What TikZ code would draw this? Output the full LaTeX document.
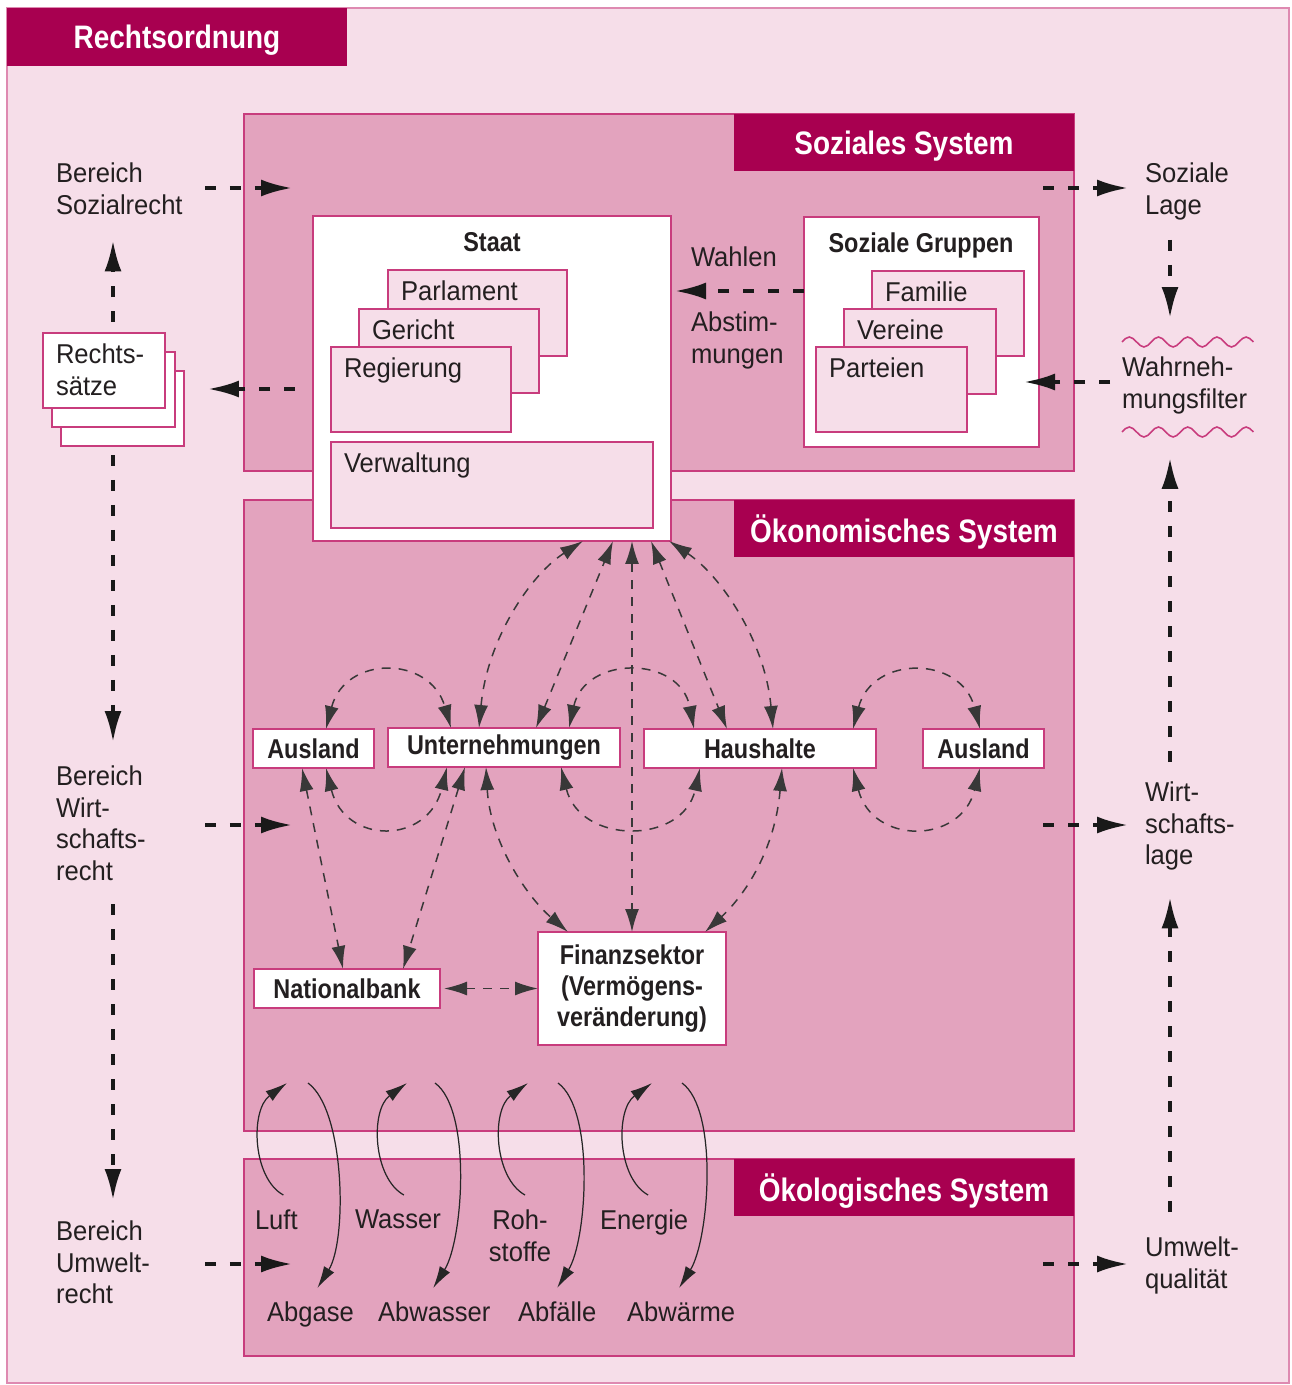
\documentclass[tikz,border=0pt]{standalone}
\usepackage{fontspec}
\setmainfont{Liberation Sans}[UprightFeatures={FakeStretch=0.94},BoldFeatures={FakeStretch=0.86}]
\usepackage{tikz}
\usetikzlibrary{arrows.meta}

\definecolor{dunkel}{RGB}{168,0,80}
\definecolor{mittel}{RGB}{227,163,190}
\definecolor{hell}{RGB}{246,222,233}
\definecolor{rand}{RGB}{200,60,125}
\definecolor{schrift}{RGB}{35,31,32}

\begin{document}
\begin{tikzpicture}[x=0.02cm,y=-0.02cm]
    % Stile
    \def\px{0.02cm}
    \def\grund{\fontsize{15.5}{17.9}\selectfont}
    \tikzstyle{system}=[draw=rand,fill=mittel,line width=0.8pt]
    \tikzstyle{reiter}=[anchor=north west,fill=dunkel,text=white,inner sep=0pt,outer sep=0pt,text depth=0pt,font=\bfseries\fontsize{18.5}{22}\selectfont]
    \tikzstyle{weiss}=[anchor=north west,draw=rand,fill=white,line width=0.8pt,inner sep=0pt,outer sep=0pt]
    \tikzstyle{blatt}=[weiss,fill=hell]
    \tikzstyle{wert}=[weiss,text=schrift,font=\bfseries\grund]
    \tikzstyle{titel}=[anchor=base,inner sep=0pt,text=schrift,font=\bfseries\grund]
    \tikzstyle{etikett}=[anchor=north west,inner sep=0pt,outer sep=0pt,align=left,text=schrift,font=\grund]
    \tikzstyle{innen}=[etikett,xshift=13*\px,yshift=-11*\px]
    \tikzstyle{pfeil}=[-{Latex[length=0.62cm,width=0.34cm]},line width=2pt,dash pattern=on 0.22cm off 0.28cm,black!90]
    \tikzstyle{fluss}=[{Latex[length=0.46cm,width=0.28cm]}-{Latex[length=0.46cm,width=0.28cm]},line width=0.85pt,dash pattern=on 0.18cm off 0.16cm,black!78]
    \tikzstyle{stoff}=[-{Latex[length=0.44cm,width=0.24cm]},line width=0.7pt,black!85]
    \useasboundingbox (0,0) rectangle (1291,1385);
    % Flaechen
    \filldraw[draw=rand!60,fill=hell,line width=0.6pt] (7,8) rectangle (1289,1383);
    \filldraw[system] (244,114) rectangle (1074,471);
    \filldraw[system] (244,500) rectangle (1074,1131);
    \filldraw[system] (244,1159) rectangle (1074,1356);
    \node[reiter,minimum width=340*\px,minimum height=58*\px] (Recht) at (7,8) {Rechtsordnung};
    \node[reiter,minimum width=340*\px,minimum height=57*\px] (Sozial) at (734,114) {Soziales System};
    \node[reiter,minimum width=340*\px,minimum height=57*\px] (Oekon) at (734,500) {Ökonomisches System};
    \node[reiter,minimum width=340*\px,minimum height=57*\px] (Oekol) at (734,1159) {Ökologisches System};
    % Staat
    \node[weiss,minimum width=358*\px,minimum height=325*\px] (Staat) at (313,216) {};
    \node[titel] (tStaat) at (492,252) {Staat};
    \node[blatt,minimum width=179*\px,minimum height=86*\px] (Parl) at (388,270) {};
    \node[innen] (tParl) at (Parl.north west) {Parlament};
    \node[blatt,minimum width=180*\px,minimum height=84*\px] (Ger) at (359,309) {};
    \node[innen] (tGer) at (Ger.north west) {Gericht};
    \node[blatt,minimum width=180*\px,minimum height=85*\px] (Reg) at (331,347) {};
    \node[innen] (tReg) at (Reg.north west) {Regierung};
    \node[blatt,minimum width=322*\px,minimum height=86*\px] (Verw) at (331,442) {};
    \node[innen] (tVerw) at (Verw.north west) {Verwaltung};
    % Soziale Gruppen
    \node[weiss,minimum width=235*\px,minimum height=230*\px] (SozGr) at (804,217) {};
    \node[titel] (tSozGr) at (921,253) {Soziale Gruppen};
    \node[blatt,minimum width=152*\px,minimum height=85*\px] (Fam) at (872,271) {};
    \node[innen] (tFam) at (Fam.north west) {Familie};
    \node[blatt,minimum width=152*\px,minimum height=85*\px] (Ver) at (844,309) {};
    \node[innen] (tVer) at (Ver.north west) {Vereine};
    \node[blatt,minimum width=151*\px,minimum height=85*\px] (Part) at (816,347) {};
    \node[innen] (tPart) at (Part.north west) {Parteien};
    % Rechtssaetze
    \node[weiss,minimum width=123*\px,minimum height=75*\px] (Rs3) at (61,371) {};
    \node[weiss,minimum width=123*\px,minimum height=75*\px] (Rs2) at (52,352) {};
    \node[weiss,minimum width=122*\px,minimum height=75*\px] (Rs1) at (43,333) {};
    \node[innen] (tRs) at (Rs1.north west) {Rechts-\\sätze};
    % Wirtschaft
    \node[wert,minimum width=121*\px,minimum height=39*\px] (Aus1) at (253,729) {Ausland};
    \node[wert,minimum width=232*\px,minimum height=39*\px] (Unt) at (388,728) {Unternehmungen};
    \node[wert,minimum width=232*\px,minimum height=39*\px] (Haus) at (644,729) {Haushalte};
    \node[wert,minimum width=121*\px,minimum height=39*\px] (Aus2) at (923,729) {Ausland};
    \node[wert,minimum width=186*\px,minimum height=39*\px] (NatB) at (254,969) {Nationalbank};
    \node[wert,minimum width=188*\px,minimum height=113*\px,align=center] (Finanz) at (538,932) {Finanzsektor\\(Vermögens-\\veränderung)};
    % Beschriftungen
    \node[etikett] (BSoz) at (56,163) {Bereich\\Sozialrecht};
    \node[etikett] (BWirt) at (56,766) {Bereich\\Wirt-\\schafts-\\recht};
    \node[etikett] (BUmw) at (56,1221) {Bereich\\Umwelt-\\recht};
    \node[etikett] (SozL) at (1145,163) {Soziale\\Lage};
    \node[etikett] (Wahrn) at (1122,357) {Wahrneh-\\mungsfilter};
    \node[etikett] (WirtL) at (1145,782) {Wirt-\\schafts-\\lage};
    \node[etikett] (UmwQ) at (1145,1237) {Umwelt-\\qualität};
    \node[etikett] (Wahlen) at (691,247) {Wahlen};
    \node[etikett] (Abst) at (691,312) {Abstim-\\mungen};
    \node[etikett] (Luft) at (255,1210) {Luft};
    \node[etikett] (Wasser) at (355,1210) {Wasser};
    \node[etikett,anchor=north,align=center] (Roh) at (520,1210) {Roh-\\stoffe};
    \node[etikett] (Energie) at (600,1210) {Energie};
    \node[etikett] (Abgase) at (267,1302) {Abgase};
    \node[etikett] (Abwasser) at (378,1302) {Abwasser};
    \node[etikett] (Abfaelle) at (518,1302) {Abfälle};
    \node[etikett] (Abwaerme) at (627,1302) {Abwärme};
    % Hilfspunkte
    \coordinate (AchseL) at (113,0);
    \coordinate (AchseR) at (1170,0);
    \coordinate (StartL) at (205,0);
    \coordinate (StartR) at (1043,0);
    \coordinate (SozEin) at (292,188);
    \coordinate (OekEin) at (292,825);
    \coordinate (EcoEin) at (292,1264);
    \coordinate (SozAus) at (295,389);
    \coordinate (Wahl) at (0,291);
    \coordinate (Filter) at (0,382);
    \coordinate (LuftO) at (287,1083);
    \coordinate (AbgasO) at (308,1083);
    \coordinate (WasserO) at (407,1083);
    \coordinate (AbwasserO) at (435,1083);
    \coordinate (RohO) at (528,1083);
    \coordinate (AbfaelleO) at (558,1083);
    \coordinate (EnergieO) at (652,1083);
    \coordinate (AbwaermeO) at (682,1083);
    % Wahrnehmungsfilter
    \draw[rand,line width=0.9pt] (1122,342) \foreach \i in {1,...,4} { sin ++(7.3,-5) cos ++(7.3,5) sin ++(7.3,5) cos ++(7.3,-5) } sin ++(7.3,-5) cos ++(7.3,5);
    \draw[rand,line width=0.9pt] (1122,432) \foreach \i in {1,...,4} { sin ++(7.3,-5) cos ++(7.3,5) sin ++(7.3,5) cos ++(7.3,-5) } sin ++(7.3,-5) cos ++(7.3,5);
    % Pfeile Rechtsordnung
    \draw[pfeil] (SozEin -| StartL) -- (SozEin);
    \draw[pfeil] (OekEin -| StartL) -- (OekEin);
    \draw[pfeil] (EcoEin -| StartL) -- (EcoEin);
    \draw[pfeil,shorten >=17*\px] (SozEin -| StartR) -- (SozEin -| SozL.west);
    \draw[pfeil,shorten >=17*\px] (OekEin -| StartR) -- (OekEin -| WirtL.west);
    \draw[pfeil,shorten >=17*\px] (EcoEin -| StartR) -- (EcoEin -| UmwQ.west);
    \draw[pfeil,shorten >=24*\px] (SozAus) -- (SozAus -| Rs3.east);
    \draw[pfeil,shorten <=11*\px,shorten >=26*\px] (Rs1.north -| AchseL) -- (BSoz.south -| AchseL);
    \draw[pfeil,shorten <=9*\px,shorten >=24*\px] (Rs3.south -| AchseL) -- (BWirt.north -| AchseL);
    \draw[pfeil,shorten <=24*\px,shorten >=21*\px] (BWirt.south -| AchseL) -- (BUmw.north -| AchseL);
    \draw[pfeil,shorten <=20*\px,shorten >=39*\px] (SozL.south -| AchseR) -- (Wahrn.north -| AchseR);
    \draw[pfeil,shorten <=20*\px,shorten >=44*\px] (WirtL.north -| AchseR) -- (Wahrn.south -| AchseR);
    \draw[pfeil,shorten <=25*\px,shorten >=27*\px] (UmwQ.north -| AchseR) -- (WirtL.south -| AchseR);
    \draw[pfeil,shorten >=4*\px] (SozGr.west |- Wahl) -- (Staat.east |- Wahl);
    \draw[pfeil,shorten <=12*\px,shorten >=-15*\px] (Wahrn.west |- Filter) -- (SozGr.east |- Filter);
    % Pfeile Wirtschaft (oben)
    \draw[fluss] ([xshift=12.5*\px]Aus1.north) .. controls +(19,-74) and +(-21,-73) .. ([xshift=-53*\px]Unt.north);
    \draw[fluss] ([xshift=-25*\px]Unt.north) .. controls +(8,-88) and +(-53,34) .. ([xshift=91*\px]Staat.south);
    \draw[fluss] ([xshift=32*\px]Unt.north) -- ([xshift=121*\px]Staat.south);
    \draw[fluss] ([xshift=140*\px]Staat.south) -- (Finanz.north);
    \draw[fluss] ([xshift=159*\px]Staat.south) -- ([xshift=-33*\px]Haus.north);
    \draw[fluss] ([xshift=13*\px]Haus.north) .. controls +(-8,-89) and +(51,34) .. ([xshift=177*\px]Staat.south);
    \draw[fluss] ([xshift=65*\px]Unt.north) .. controls +(16,-73) and +(-14,-74) .. ([xshift=-66*\px]Haus.north);
    \draw[fluss] ([xshift=93*\px]Haus.north) .. controls +(19,-74) and +(-19,-74) .. ([xshift=-3.5*\px]Aus2.north);
    % Pfeile Wirtschaft (unten)
    \draw[fluss] ([xshift=12.5*\px]Aus1.south) .. controls +(19,77) and +(-19,78) .. ([xshift=-57*\px]Unt.south);
    \draw[fluss] ([xshift=-11.5*\px]Aus1.south) -- ([xshift=-4*\px]NatB.north);
    \draw[fluss] ([xshift=-39*\px]Unt.south) -- ([xshift=56*\px]NatB.north);
    \draw[fluss] ([xshift=-18*\px]Unt.south) .. controls +(4,73) and +(-43,-37) .. ([xshift=-64*\px]Finanz.north);
    \draw[fluss] ([xshift=57*\px]Unt.south) .. controls +(19,78) and +(-17,77) .. ([xshift=-60*\px]Haus.south);
    \draw[fluss] ([xshift=22*\px]Haus.south) .. controls +(-7,82) and +(40,-37) .. ([xshift=73*\px]Finanz.north);
    \draw[fluss] ([xshift=93*\px]Haus.south) .. controls +(19,77) and +(-19,77) .. ([xshift=-3.5*\px]Aus2.south);
    \draw[fluss,shorten <=4*\px] (NatB.east) -- (Finanz.west |- NatB.east);
    % Stoffstroeme
    \draw[stoff] ([xshift=7*\px,yshift=15*\px]Luft.north) .. controls +(-31,-17) and +(-37,27) .. (LuftO);
    \draw[stoff] (AbgasO) .. controls +(37,27) and +(30,-48) .. ([xshift=7*\px,yshift=14*\px]Abgase.north);
    \draw[stoff] ([xshift=6*\px,yshift=15*\px]Wasser.north) .. controls +(-31,-17) and +(-37,27) .. (WasserO);
    \draw[stoff] (AbwasserO) .. controls +(37,27) and +(30,-48) .. ([xshift=-1*\px,yshift=14*\px]Abwasser.north);
    \draw[stoff] ([xshift=5*\px,yshift=15*\px]Roh.north) .. controls +(-31,-17) and +(-37,27) .. (RohO);
    \draw[stoff] (AbfaelleO) .. controls +(37,27) and +(30,-48) .. ([yshift=14*\px]Abfaelle.north);
    \draw[stoff] ([xshift=4*\px,yshift=15*\px]Energie.north) .. controls +(-31,-17) and +(-37,27) .. (EnergieO);
    \draw[stoff] (AbwaermeO) .. controls +(37,27) and +(30,-48) .. ([xshift=-2*\px,yshift=14*\px]Abwaerme.north);
\end{tikzpicture}
\end{document}
